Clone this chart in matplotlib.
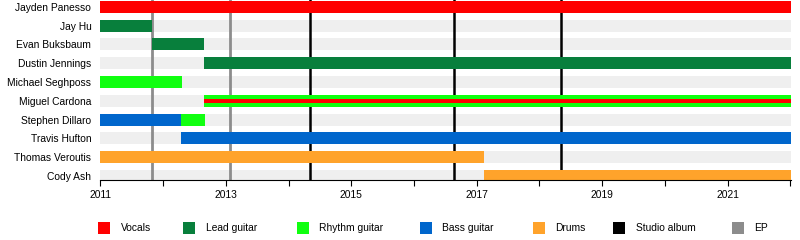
import matplotlib
matplotlib.use("Agg")
import matplotlib.pyplot as plt
from matplotlib.patches import Rectangle

plt.rcParams["font.family"] = ["Liberation Sans", "DejaVu Sans"]
FS = 7.4

# ---- data -------------------------------------------------------------
members = ["Jayden Panesso", "Jay Hu", "Evan Buksbaum", "Dustin Jennings",
           "Michael Seghposs", "Miguel Cardona", "Stephen Dillaro",
           "Travis Hufton", "Thomas Veroutis", "Cody Ash"]

start_year = 2011.0
end_year = 2022.01

span_member = ["Jayden Panesso", "Jay Hu", "Evan Buksbaum", "Dustin Jennings",
               "Michael Seghposs", "Miguel Cardona", "Stephen Dillaro",
               "Stephen Dillaro", "Travis Hufton", "Thomas Veroutis", "Cody Ash"]
span_role = ["Vocals", "Lead guitar", "Lead guitar", "Lead guitar",
             "Rhythm guitar", "Rhythm guitar", "Bass guitar",
             "Rhythm guitar", "Bass guitar", "Drums", "Drums"]
span_start = [2011.0, 2011.0, 2011.83, 2012.66, 2011.0, 2012.66, 2011.0,
              2012.29, 2012.29, 2011.0, 2017.12]
span_end = [end_year, 2011.83, 2012.66, end_year, 2012.30, end_year, 2012.29,
            2012.67, end_year, 2017.12, end_year]

# secondary roles, drawn as a thin stripe through the main bar
extra_member = ["Miguel Cardona"]
extra_role = ["Vocals"]
extra_start = [2012.66]
extra_end = [end_year]

studio_albums = [2014.34, 2016.64, 2018.35]
eps = [2011.83, 2013.07]

roles = ["Vocals", "Lead guitar", "Rhythm guitar", "Bass guitar", "Drums"]
legend_labels = roles + ["Studio album", "EP"]

# ---- styles -----------------------------------------------------------
role_colors = {
    "Vocals": "#ff0000",
    "Lead guitar": "#087f3c",
    "Rhythm guitar": "#10ff10",
    "Bass guitar": "#0066cc",
    "Drums": "#ffa32b",
}
album_color = "#000000"
ep_color = "#8c8c8c"
row_bg = "#efefef"

W, H = 800, 240
fig = plt.figure(figsize=(W / 100, H / 100), dpi=100)
ax_left, ax_right, ax_bottom = 100.3, 791.0, 180.3
ax = fig.add_axes([ax_left / W, 1 - ax_bottom / H,
                   (ax_right - ax_left) / W, ax_bottom / H])

row_pitch = 18.8          # pixels between rows
first_center = 6.85       # pixel offset of first row centre
bar_h = 12.0 / row_pitch
ax.set_ylim((ax_bottom - first_center) / row_pitch, -first_center / row_pitch)
ax.set_xlim(start_year, end_year)

row_of = {m: i for i, m in enumerate(members)}

# light background band for every row
ax.barh(range(len(members)), end_year - start_year, left=start_year,
        height=bar_h, color=row_bg, zorder=1)

# release markers
for x in eps:
    ax.axvline(x, color=ep_color, lw=2.0, zorder=2)
for x in studio_albums:
    ax.axvline(x, color=album_color, lw=1.8, zorder=2)

# membership bars
for m, r, s, e in zip(span_member, span_role, span_start, span_end):
    ax.barh(row_of[m], e - s, left=s, height=bar_h,
            color=role_colors[r], zorder=3)
for m, r, s, e in zip(extra_member, extra_role, extra_start, extra_end):
    ax.barh(row_of[m], e - s, left=s, height=bar_h / 3,
            color=role_colors[r], zorder=4)

# axes styling
for side in ("left", "right", "top"):
    ax.spines[side].set_visible(False)
ax.spines["bottom"].set_linewidth(0.8)
ax.spines["bottom"].set_zorder(5)
ax.set_yticks(range(len(members)))
ax.set_yticklabels(members, fontsize=FS)
ax.tick_params(axis="y", length=0, pad=6.5)
ax.set_xticks(range(2011, 2022, 2))
ax.set_xticklabels([str(y) for y in range(2011, 2022, 2)], fontsize=FS)
ax.set_xticks(range(2012, 2023), minor=True)
ax.tick_params(axis="x", which="both", length=4.3, width=0.8,
               direction="out", pad=2.8)
ax.set_facecolor("white")

# legend row
legend_colors = [role_colors[r] for r in roles] + [album_color, ep_color]
legend_x = [98.3, 183.3, 296.7, 420.0, 533.0, 613.0, 732.0]
sq = 12.0
leg_top = 222.3
for x, c, lab in zip(legend_x, legend_colors, legend_labels):
    fig.add_artist(Rectangle((x / W, 1 - (leg_top + sq) / H), sq / W, sq / H,
                             transform=fig.transFigure, color=c, lw=0))
    fig.text((x + 22.5) / W, 1 - (leg_top + sq / 2) / H, lab,
             fontsize=FS, va="center", ha="left")

fig.savefig("out.png", dpi=100, facecolor="white")
